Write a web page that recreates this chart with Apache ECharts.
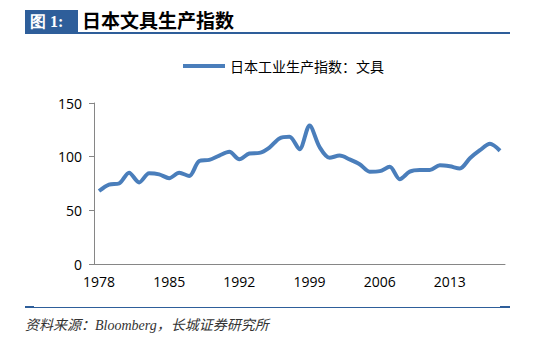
<!DOCTYPE html>
<html><head><meta charset="utf-8">
<script src="https://cdn.jsdelivr.net/npm/echarts@6/dist/echarts.min.js"></script>
<style>html,body{margin:0;padding:0;background:#fff}#c{width:554px;height:343px}</style>
</head><body><div id="c"></div>
<script>
const years = [];
for (let y = 1978; y <= 2018; y++) years.push(String(y));
const seriesName = '日本工业生产指数：文具';
const values = [68, 74, 75, 85, 76, 84.5, 83.5, 80, 85, 82,
  96, 97, 101, 104.5, 97.5, 103, 103.5, 108.5, 117, 118.5,
  107, 129, 109, 99, 101, 97.5, 93, 86, 86.5, 90.5,
  79, 86, 87.5, 87.5, 92, 91, 89, 98.5, 106, 112, 105.5];
const yTicks = [0, 50, 100, 150];
const titleTag = '图 1:';
const titleText = '日本文具生产指数';
const sourceText = '资料来源：Bloomberg，长城证券研究所';

const chart = echarts.init(document.getElementById('c'), null, {renderer: 'svg'});
chart.setOption({
  animation: false,
  backgroundColor: '#fff',
  graphic: [
    {type: 'rect', shape: {x: 25, y: 10, width: 53, height: 23}, style: {fill: '#2E5E9A'}},
    {type: 'text', left: 30, top: 13, style: {text: titleTag, fill: '#fff', font: 'bold 16px "Liberation Serif", serif'}},
    {type: 'text', left: 82, top: 10, style: {text: titleText, fill: '#000', font: 'bold 19px "Noto Sans CJK SC", sans-serif'}},
    {type: 'rect', shape: {x: 25, y: 32, width: 485, height: 2}, style: {fill: '#2E5E9A'}},
    {type: 'rect', shape: {x: 25, y: 307, width: 485, height: 1}, style: {fill: '#2E5E9A'}},
    {type: 'rect', shape: {x: 25, y: 306, width: 9, height: 2}, style: {fill: '#2E5E9A'}},
    {type: 'rect', shape: {x: 500, y: 306, width: 10, height: 2}, style: {fill: '#2E5E9A'}},
    {type: 'text', left: 25, top: 318, style: {text: sourceText, fill: '#333', font: 'italic 14px "Liberation Serif", "Noto Sans CJK SC", serif'}}
  ],
  legend: {
    top: 54, left: 178,
    itemWidth: 42, itemHeight: 4, itemGap: 4,
    icon: 'rect',
    textStyle: {fontSize: 14, color: '#000', fontFamily: '"Noto Sans CJK SC", sans-serif'},
    data: [{name: seriesName, icon: 'rect'}]
  },
  grid: {left: 94, right: 49, top: 103, bottom: 79},
  xAxis: {
    type: 'category', data: years, boundaryGap: true,
    axisLine: {lineStyle: {color: '#868686', width: 1}},
    axisTick: {interval: 6, length: 5, lineStyle: {color: '#868686'}},
    axisLabel: {interval: 6, fontSize: 14, color: '#000', margin: 10, fontFamily: '"Open Sans", "Liberation Sans", sans-serif'},
    splitLine: {show: false}
  },
  yAxis: {
    type: 'value', min: yTicks[0], max: yTicks[yTicks.length - 1], interval: 50,
    axisLine: {show: true, lineStyle: {color: '#868686', width: 1}},
    axisTick: {show: true, length: 5, lineStyle: {color: '#868686'}},
    axisLabel: {fontSize: 14, color: '#000', margin: 12, fontFamily: '"Open Sans", "Liberation Sans", sans-serif'},
    splitLine: {show: false}
  },
  series: [{
    name: seriesName, type: 'line', data: values,
    smooth: 0.3, symbol: 'none',
    lineStyle: {color: '#4A7EBB', width: 4},
    itemStyle: {color: '#4A7EBB'}
  }]
});
</script></body></html>
